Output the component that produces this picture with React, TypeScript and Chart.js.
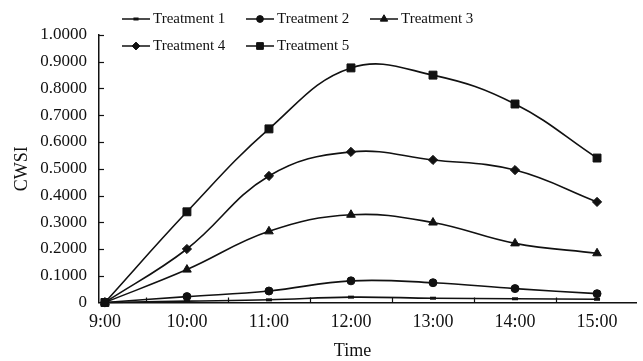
import React, { useEffect, useRef } from 'react';
import { Chart, registerables } from 'chart.js';
import { drawPoint } from 'chart.js/helpers';

Chart.register(...registerables);

const hours = [9, 10, 11, 12, 13, 14, 15];
const halfHourMarks = [9.5, 10.5, 11.5, 12.5, 13.5, 14.5];
const yTickValues = [0.1, 0.2, 0.3, 0.4, 0.5, 0.6, 0.7, 0.8, 0.9, 1.0];

const seriesNames = ['Treatment 1', 'Treatment 2', 'Treatment 3', 'Treatment 4', 'Treatment 5'];
const treatment1 = [0, 0.005, 0.01, 0.02, 0.016, 0.014, 0.012];
const treatment2 = [0, 0.022, 0.043, 0.081, 0.074, 0.052, 0.033];
const treatment3 = [0, 0.123, 0.266, 0.328, 0.299, 0.221, 0.184];
const treatment4 = [0, 0.2, 0.473, 0.563, 0.533, 0.495, 0.376];
const treatment5 = [0, 0.339, 0.649, 0.877, 0.85, 0.742, 0.54];
const seriesValues = [treatment1, treatment2, treatment3, treatment4, treatment5];
const xTitle = 'Time';
const yTitle = 'CWSI';

const pointStyles = ['line', 'circle', 'triangle', 'rectRot', 'rect'];
const pointRadii = [3, 4, 5, 4.6, 5.6];

const INK = '#111111';
const FONT = "'Liberation Serif', 'Times New Roman', serif";

const legendPlugin = {
  id: 'rowLegend',
  afterDraw(chart: any) {
    const ctx = chart.ctx;
    ctx.save();
    chart.data.datasets.forEach((ds: any, i: number) => {
      const col = i % 3;
      const row = Math.floor(i / 3);
      const x = 122 + col * 124;
      const y = 19 + row * 27;
      ctx.strokeStyle = INK;
      ctx.fillStyle = INK;
      ctx.lineWidth = 1.5;
      ctx.beginPath();
      ctx.moveTo(x, y);
      ctx.lineTo(x + 28, y);
      ctx.stroke();
      ctx.lineWidth = ds.pointStyle === 'line' ? 3 : 1;
      drawPoint(
        ctx,
        { pointStyle: ds.pointStyle, radius: ds.pointRadius * 0.85, borderWidth: ds.pointStyle === 'line' ? 3 : 1, rotation: 0 },
        x + 14,
        y
      );
      ctx.font = `15px ${FONT}`;
      ctx.textBaseline = 'middle';
      ctx.textAlign = 'left';
      ctx.fillText(ds.label, x + 31, y + 0.5);
    });
    ctx.restore();
  },
};

const innerTicksPlugin = {
  id: 'innerTicks',
  afterDraw(chart: any) {
    const { ctx, scales } = chart;
    const xs = scales.x;
    const ys = scales.y;
    ctx.save();
    ctx.strokeStyle = INK;
    ctx.lineWidth = 1.2;
    halfHourMarks.forEach((v) => {
      const px = Math.round(xs.getPixelForValue(v)) + 0.5;
      ctx.beginPath();
      ctx.moveTo(px, xs.top);
      ctx.lineTo(px, xs.top - 5);
      ctx.stroke();
    });
    yTickValues.forEach((v) => {
      const py = Math.round(ys.getPixelForValue(v)) + 0.5;
      ctx.beginPath();
      ctx.moveTo(ys.right, py);
      ctx.lineTo(ys.right + 5, py);
      ctx.stroke();
    });
    // x-axis title, centred a little left of the plot centre as in the source figure
    ctx.fillStyle = INK;
    ctx.font = `18px ${FONT}`;
    ctx.textAlign = 'center';
    ctx.textBaseline = 'middle';
    ctx.fillText(xTitle, (xs.left + xs.right) / 2 - 15, xs.bottom - 10);
    ctx.restore();
  },
};

export default function App() {
  const canvasRef = useRef<HTMLCanvasElement | null>(null);

  useEffect(() => {
    const canvas = canvasRef.current;
    if (!canvas) return;
    const chart = new Chart(canvas, {
      type: 'line',
      data: {
        datasets: seriesNames.map((name, i) => ({
          label: name,
          data: hours.map((h, j) => ({ x: h, y: seriesValues[i][j] })),
          borderColor: INK,
          backgroundColor: INK,
          borderWidth: 1.6,
          pointStyle: pointStyles[i] as any,
          pointRadius: pointRadii[i],
          pointBorderWidth: pointStyles[i] === 'line' ? 3 : 1,
          pointBorderColor: INK,
          pointBackgroundColor: INK,
          tension: 0.4,
          fill: false,
          clip: false as any,
        })),
      },
      options: {
        animation: false,
        responsive: false,
        devicePixelRatio: 1,
        layout: { padding: { top: 35, right: 2, left: 0, bottom: 0 } },
        plugins: {
          legend: { display: false },
          tooltip: { enabled: false },
        },
        scales: {
          x: {
            type: 'linear',
            min: 8.928,
            max: 15.475,
            afterBuildTicks: (s: any) => {
              s.ticks = hours.map((v) => ({ value: v }));
            },
            afterFit: (s: any) => {
              s.height = 58.5;
            },
            grid: { display: false, drawTicks: false },
            border: { display: true, color: INK, width: 1.5 },
            ticks: {
              font: { family: FONT, size: 18 },
              color: INK,
              padding: 9,
              maxRotation: 0,
              autoSkip: false,
              callback: (v: any) => `${v}:00`,
            },
            title: { display: false },
          },
          y: {
            min: 0,
            max: 1,
            afterFit: (s: any) => {
              s.width = 99;
            },
            grid: { display: false, drawTicks: false },
            border: { display: true, color: INK, width: 1.5 },
            ticks: {
              stepSize: 0.1,
              font: { family: FONT, size: 17 },
              color: INK,
              padding: 12,
              callback: (v: any) => (v === 0 ? '0' : Number(v).toFixed(4)),
            },
            title: {
              display: true,
              text: yTitle,
              font: { family: FONT, size: 18 },
              color: INK,
              padding: { top: 11, bottom: 0 },
            },
          },
        },
      },
      plugins: [legendPlugin, innerTicksPlugin],
    } as any);
    return () => chart.destroy();
  }, []);

  return (
    <div style={{ position: 'absolute', left: 0, top: 0, width: 643, height: 361, background: '#fff' }}>
      <canvas ref={canvasRef} width={643} height={361} style={{ display: 'block', width: 643, height: 361 }} />
    </div>
  );
}
